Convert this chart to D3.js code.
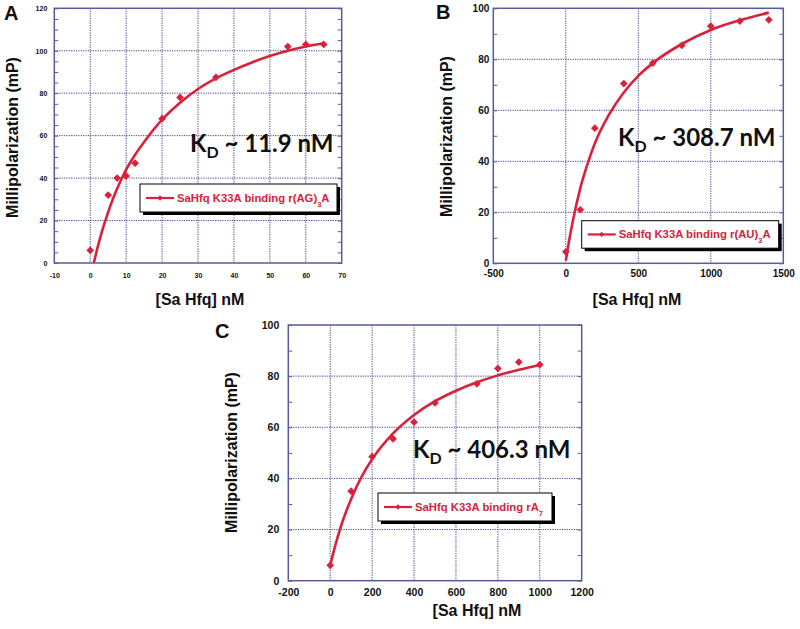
<!DOCTYPE html>
<html lang="en">
  <head>
    <meta charset="UTF-8" />
    <title>SaHfq K33A binding</title>
    <script src="https://cdn.jsdelivr.net/npm/d3@7"></script>
    <style>
      body { margin: 0; background: #fff; }
      svg { display: block; font-family: 'Liberation Sans', Arial, sans-serif; }
      .frame { fill: none; stroke: #575c9c; stroke-width: 1.5px; }
      .grid line { stroke: #3d418c; stroke-width: 1px; stroke-dasharray: 1.2, 1.2; }
      .minor line { stroke: #575c9c; stroke-width: 1px; }
      .minor path, .ticks path { display: none; }
      .ticks text { font-family: 'Liberation Sans', Arial, sans-serif; font-weight: 700; fill: #111; }
      .axis-title { font-weight: 700; font-size: 16px; fill: #111; }
      .letter { font-weight: 700; font-size: 20px; fill: #111; }
      .kd { font-family: Lato, 'Open Sans', sans-serif; font-weight: 700; fill: #111; }
      .fit { fill: none; stroke: #d8223b; stroke-width: 2.6px; }
      .pt { fill: #d8223b; }
      .legend-text { font-weight: 700; font-size: 11.3px; fill: #d8223b; }
    </style>
  </head>
  <body>
    <svg width="800" height="629"></svg>
    <script>
      // panel A : r(AG)3A
      const concA = [0, 5, 7.5, 10, 12.5, 20, 25, 35, 55, 60, 65];
      const mpA = [6, 32, 40, 41, 47, 68, 78, 87.5, 102, 103, 103];
      const fitXA = [1, 2, 3.3, 5, 6.5, 8, 10, 12.5, 15, 20, 25, 30, 35, 40, 45, 50, 55, 60, 65];
      const fitYA = [0, 7, 15, 24, 31, 37, 44, 51, 57, 67.5, 75.5, 82, 87, 91, 94.5, 97.5, 100, 102, 103.5];
      const xTicksA = [-10, 0, 10, 20, 30, 40, 50, 60, 70];
      const yTicksA = [0, 20, 40, 60, 80, 100, 120];

      // panel B : r(AU)3A
      const concB = [0, 100, 200, 400, 600, 800, 1000, 1200, 1400];
      const mpB = [4.5, 21, 53, 70.5, 78.5, 85.5, 93, 95, 95.5];
      const fitXB = [0, 25, 50, 100, 150, 200, 300, 400, 500, 600, 800, 1000, 1200, 1400];
      const fitYB = [1, 9.5, 17, 29.5, 39, 47, 58.5, 67, 73.5, 78.5, 86, 91.5, 95.3, 98.3];
      const xTicksB = [-500, 0, 500, 1000, 1500];
      const yTicksB = [0, 20, 40, 60, 80, 100];

      // panel C : rA7
      const concC = [0, 100, 200, 300, 400, 500, 700, 800, 900, 1000];
      const mpC = [6, 35, 48.5, 55.5, 62, 69.5, 77, 83, 85.5, 84.5];
      const fitXC = [0, 25, 50, 100, 150, 200, 300, 400, 500, 600, 700, 800, 900, 1000];
      const fitYC = [6, 14, 21, 32, 40.7, 47.5, 57.6, 64.8, 70.2, 74.3, 77.6, 80.3, 82.5, 84.4];
      const xTicksC = [-200, 0, 200, 400, 600, 800, 1000, 1200];
      const yTicksC = [0, 20, 40, 60, 80, 100];

      const panels = [
        {
          letter: 'A', kd: '11.9', rna: ['r(AG)', '3', 'A'],
          conc: concA, mp: mpA, fitX: fitXA, fitY: fitYA,
          xTicks: xTicksA, yTicks: yTicksA, minorStep: 5,
          box: { l: 54.3, r: 341.7, t: 8.3, b: 263 },
          tickFont: 7, yPad: 7, xBase: 15,
          letterPos: [4, 20], yTitle: [18, 137.5], xTitle: [200, 305],
          kdPos: [190, 152], legend: { x: 140, y: 184, w: 197, h: 28 },
        },
        {
          letter: 'B', kd: '308.7', rna: ['r(AU)', '3', 'A'],
          conc: concB, mp: mpB, fitX: fitXB, fitY: fitYB,
          xTicks: xTicksB, yTicks: yTicksB, minorStep: 10,
          box: { l: 493.3, r: 783.3, t: 8.3, b: 263.3 },
          tickFont: 10, yPad: 4, xBase: 14,
          letterPos: [436, 18.5], yTitle: [452, 136.5], xTitle: [637, 305],
          kdPos: [618, 146], legend: { x: 581.7, y: 220.7, w: 197, h: 27.5 },
        },
        {
          letter: 'C', kd: '406.3', rna: ['rA', '7', ''],
          conc: concC, mp: mpC, fitX: fitXC, fitY: fitYC,
          xTicks: xTicksC, yTicks: yTicksC, minorStep: 10,
          box: { l: 288.3, r: 581.7, t: 325, b: 580.7 },
          tickFont: 10.5, yPad: 9, xBase: 15,
          letterPos: [215, 338], yTitle: [236.5, 452.5], xTitle: [477, 616],
          kdPos: [413, 458], legend: { x: 378, y: 493, w: 174, h: 28 },
        },
      ];

      const svg = d3.select('svg');
      svg.append('rect').attr('width', 800).attr('height', 629).attr('fill', '#fff');

      panels.forEach(drawPanel);

      function drawPanel(p) {
        const g = svg.append('g');
        const x = d3
          .scaleLinear()
          .domain(d3.extent(p.xTicks))
          .range([p.box.l, p.box.r]);
        const y = d3
          .scaleLinear()
          .domain(d3.extent(p.yTicks))
          .range([p.box.b, p.box.t]);

        // dotted grid at the major ticks
        const grid = g.append('g').attr('class', 'grid');
        grid
          .selectAll('.gx')
          .data(p.xTicks.slice(1, -1))
          .join('line')
          .attr('x1', (d) => x(d))
          .attr('x2', (d) => x(d))
          .attr('y1', p.box.t)
          .attr('y2', p.box.b);
        grid
          .selectAll('.gy')
          .data(p.yTicks.slice(1, -1))
          .join('line')
          .attr('x1', p.box.l)
          .attr('x2', p.box.r)
          .attr('y1', (d) => y(d))
          .attr('y2', (d) => y(d));

        // minor ticks, inward, on left and right
        const minor = d3.range(y.domain()[0], y.domain()[1] + 0.001, p.minorStep);
        g.append('g')
          .attr('class', 'minor')
          .attr('transform', `translate(${p.box.l},0)`)
          .call(d3.axisLeft(y).tickValues(minor).tickSize(-4).tickFormat(''));
        g.append('g')
          .attr('class', 'minor')
          .attr('transform', `translate(${p.box.r},0)`)
          .call(d3.axisRight(y).tickValues(minor).tickSize(-4).tickFormat(''));

        g.append('rect')
          .attr('class', 'frame')
          .attr('x', p.box.l)
          .attr('y', p.box.t)
          .attr('width', p.box.r - p.box.l)
          .attr('height', p.box.b - p.box.t);

        // tick labels
        const yAx = g
          .append('g')
          .attr('class', 'ticks')
          .attr('transform', `translate(${p.box.l},0)`)
          .call(d3.axisLeft(y).tickValues(p.yTicks).tickSize(0).tickPadding(p.yPad));
        const xAx = g
          .append('g')
          .attr('class', 'ticks')
          .attr('transform', `translate(0,${p.box.b})`)
          .call(d3.axisBottom(x).tickValues(p.xTicks).tickSize(0).tickFormat((d) => String(d)));
        g.selectAll('.ticks').attr('font-family', null).attr('font-size', p.tickFont);
        xAx.selectAll('text').attr('dy', null).attr('y', p.xBase);
        g.selectAll('.ticks line').remove();
        g.selectAll('.ticks .domain').remove();

        // fitted curve and data points
        const line = d3
          .line()
          .x((d, i) => x(p.fitX[i]))
          .y((d) => y(d))
          .curve(d3.curveMonotoneX);
        g.append('path').attr('class', 'fit').attr('d', line(p.fitY));

        const diamond = d3.symbol().type(d3.symbolSquare).size(30);
        g.selectAll('.pt')
          .data(p.conc)
          .join('path')
          .attr('class', 'pt')
          .attr('d', diamond)
          .attr('transform', (d, i) => `translate(${x(d)},${y(p.mp[i])}) rotate(45)`);

        // titles
        g.append('text')
          .attr('class', 'letter')
          .attr('x', p.letterPos[0])
          .attr('y', p.letterPos[1])
          .text(p.letter);
        g.append('text')
          .attr('class', 'axis-title')
          .attr('text-anchor', 'middle')
          .attr('transform', `translate(${p.yTitle[0]},${p.yTitle[1]}) rotate(-90)`)
          .text('Millipolarization (mP)');
        g.append('text')
          .attr('class', 'axis-title')
          .attr('text-anchor', 'middle')
          .attr('x', p.xTitle[0])
          .attr('y', p.xTitle[1])
          .text('[Sa Hfq] nM');

        const kd = g
          .append('text')
          .attr('class', 'kd')
          .attr('x', p.kdPos[0])
          .attr('y', p.kdPos[1])
          .attr('font-size', 24);
        kd.append('tspan').text('K');
        kd.append('tspan').attr('font-size', 16).attr('dy', 6).text('D');
        kd.append('tspan').attr('dy', -6).text(` ~ ${p.kd} nM`);

        // legend box with drop shadow
        const L = p.legend;
        g.append('rect')
          .attr('x', L.x + 3)
          .attr('y', L.y + 3)
          .attr('width', L.w)
          .attr('height', L.h)
          .attr('fill', '#000');
        g.append('rect')
          .attr('x', L.x)
          .attr('y', L.y)
          .attr('width', L.w)
          .attr('height', L.h)
          .attr('fill', '#fff')
          .attr('stroke', '#000')
          .attr('stroke-width', 1);
        const ly = L.y + L.h / 2;
        g.append('line')
          .attr('x1', L.x + 6)
          .attr('x2', L.x + 34)
          .attr('y1', ly)
          .attr('y2', ly)
          .attr('stroke', '#d8223b')
          .attr('stroke-width', 2.2);
        g.append('path')
          .attr('class', 'pt')
          .attr('d', d3.symbol().type(d3.symbolSquare).size(14))
          .attr('transform', `translate(${L.x + 20},${ly}) rotate(45)`);
        const lt = g
          .append('text')
          .attr('class', 'legend-text')
          .attr('x', L.x + 37)
          .attr('y', ly + 4);
        lt.append('tspan').text(`SaHfq K33A binding ${p.rna[0]}`);
        lt.append('tspan').attr('font-size', 7.5).attr('dy', 5).text(p.rna[1]);
        lt.append('tspan').attr('dy', -5).text(p.rna[2]);
      }
    </script>
  </body>
</html>
